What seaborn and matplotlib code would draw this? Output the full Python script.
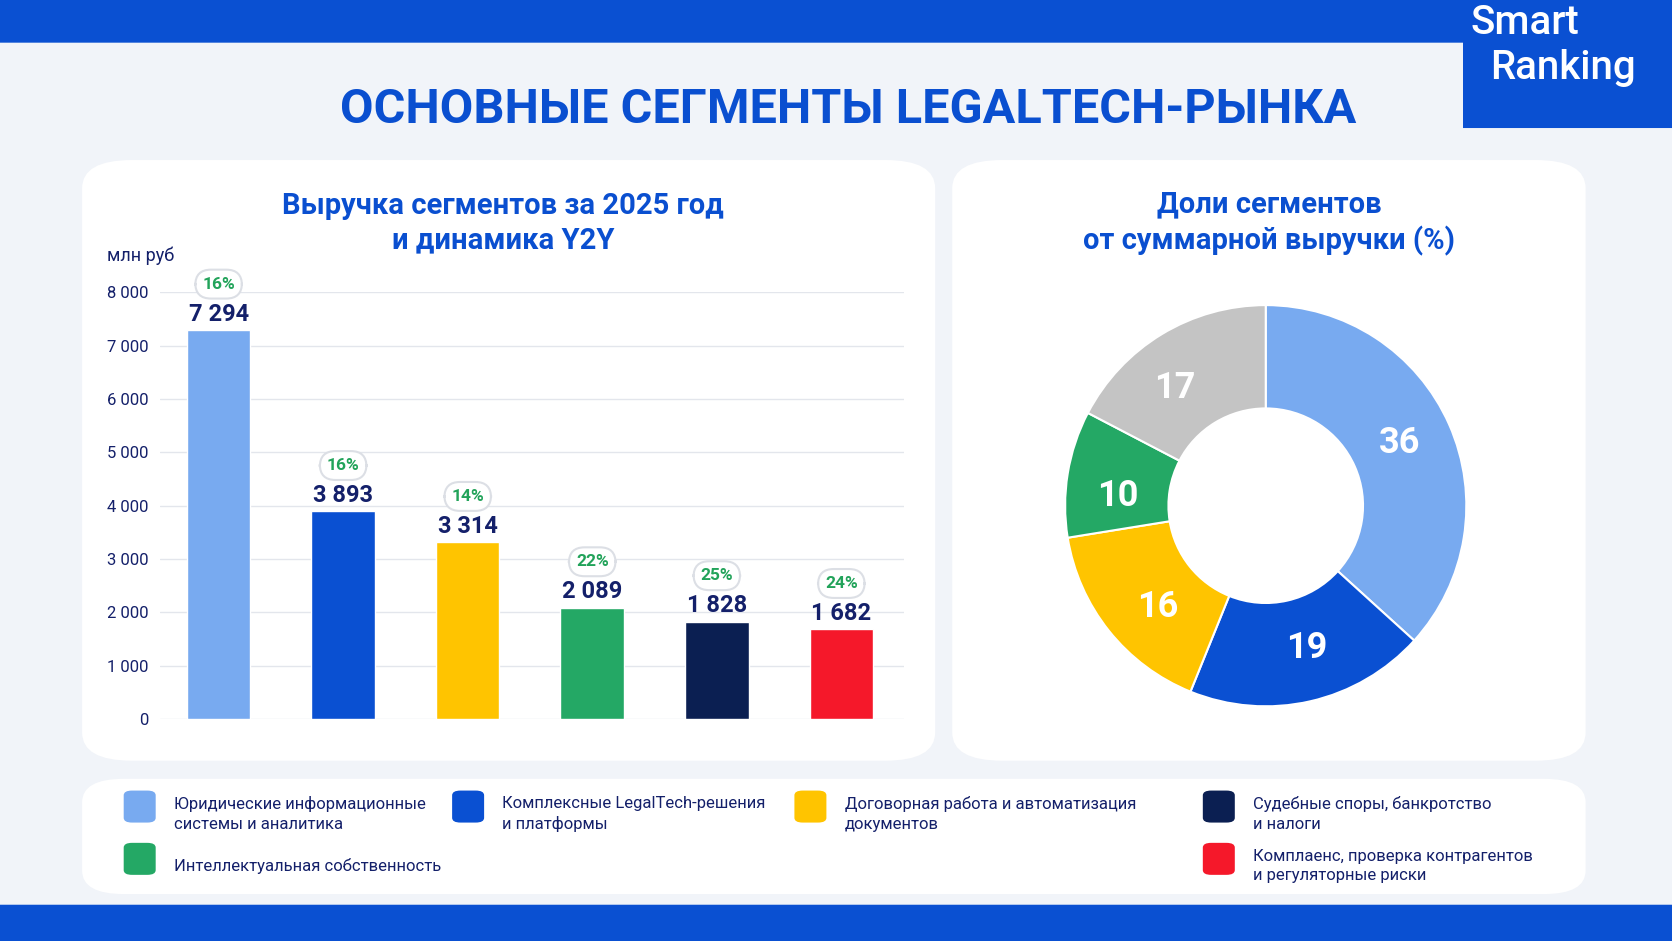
import matplotlib
matplotlib.use("Agg")
import matplotlib.pyplot as plt
from matplotlib.patches import FancyBboxPatch
import numpy as np
import seaborn as sns

sns.set_theme(style="white")
plt.rcParams['font.family'] = ['Roboto', 'DejaVu Sans']

# данные
categories = ["Юридические информационные\nсистемы и аналитика",
              "Комплексные LegalTech-решения\nи платформы",
              "Договорная работа и автоматизация\nдокументов",
              "Интеллектуальная собственность",
              "Судебные споры, банкротство\nи налоги",
              "Комплаенс, проверка контрагентов\nи регуляторные риски"]
revenue = [7294, 3893, 3314, 2089, 1828, 1682]
growth = ["16%", "16%", "14%", "22%", "25%", "24%"]
colors = ["#78aaf0", "#0a50d2", "#ffc400", "#24a865", "#0b1f52", "#f5182a"]

share_vals = [36, 19, 16, 10, 17]
share_colors = ["#78aaf0", "#0a50d2", "#ffc400", "#24a865", "#c4c4c4"]

BLUE = "#0a4fd0"
NAVY = "#14206a"
W, H = 1568, 882

fig = plt.figure(figsize=(16.72, 9.41), dpi=100)
fig.patch.set_facecolor("#f1f4f9")

def fx(x): return x / W
def fy(y): return 1 - y / H

def box(x0, y0, x1, y1, color, r=0.0):
    p = FancyBboxPatch((fx(x0), fy(y1)), fx(x1) - fx(x0), fy(y0) - fy(y1),
                       boxstyle=f"round,pad=0,rounding_size={r}",
                       transform=fig.transFigure, facecolor=color,
                       edgecolor="none", zorder=-5)
    fig.patches.append(p)

# полосы и панели
box(0, 0, W, 40, "#0a50d2")
box(0, 848, W, H, "#0a50d2")
box(1372, 0, W, 120, "#0a50d2")
fig.text(fx(1379), fy(22), "Smart", color="white", fontsize=29, va="center", weight="medium")
fig.text(fx(1397), fy(64), "Ranking", color="white", fontsize=29, va="center", weight="medium")
box(77, 150, 877, 713, "white", 0.03)
box(893, 150, 1487, 713, "white", 0.03)
box(77, 730, 1487, 838, "white", 0.025)

fig.text(fx(795), fy(103), "ОСНОВНЫЕ СЕГМЕНТЫ LEGALTECH-РЫНКА", color=BLUE,
         fontsize=35, weight="bold", ha="center", va="center")
fig.text(fx(472), fy(209), "Выручка сегментов за 2025 год\nи динамика Y2Y", color=BLUE,
         fontsize=21, weight="bold", ha="center", va="center", linespacing=1.3)
fig.text(fx(1190), fy(209), "Доли сегментов\nот суммарной выручки (%)", color=BLUE,
         fontsize=21, weight="bold", ha="center", va="center", linespacing=1.3)
fig.text(fx(100), fy(240), "млн руб", color=NAVY, fontsize=13, va="center")

# столбцы
ax = fig.add_axes([fx(150), fy(674), fx(848) - fx(150), fy(274) - fy(674)])
ax.set_zorder(5)
ax.set_facecolor("none")
sns.barplot(x=list(range(len(revenue))), y=revenue, hue=list(range(len(revenue))),
            palette=colors, legend=False, width=0.51, ax=ax, saturation=1)
ax.set_ylim(0, 8000)
ax.set_xlim(-0.471, 5.505)
ax.set_yticks(range(0, 8001, 1000))
ax.set_yticklabels([f"{v:,}".replace(",", " ") for v in range(0, 8001, 1000)],
                   color=NAVY, fontsize=12)
ax.set_xticks([])
ax.grid(axis="y", color="#e3e6ec", lw=1)
ax.set_axisbelow(True)
for s in ax.spines.values():
    s.set_visible(False)
ax.tick_params(axis="y", length=0, pad=8)
for i, (v, g) in enumerate(zip(revenue, growth)):
    ax.text(i, v + 80, f"{v:,}".replace(",", " "), ha="center", va="bottom",
            fontsize=17, weight="bold", color=NAVY)
    ax.text(i, v + 860, g, ha="center", va="center", fontsize=12.5, weight="bold",
            color="#22a35a", clip_on=False,
            bbox=dict(boxstyle="round,pad=0.4,rounding_size=0.9", fc="white",
                      ec="#dcdfe5", lw=1.5))

# кольцо
ax2 = fig.add_axes([fx(997), fy(664), fx(1377) - fx(997), fy(284) - fy(664)])
ax2.set_zorder(5)
wedges, _ = ax2.pie(share_vals, colors=share_colors, startangle=90, counterclock=False,
                    wedgeprops=dict(width=0.515, edgecolor="white", linewidth=1.5))
ang = 90
for v in share_vals:
    mid = np.deg2rad(ang - v * 3.6 / 2)
    ang -= v * 3.6
    ax2.text(0.74 * np.cos(mid), 0.74 * np.sin(mid), str(v), ha="center", va="center",
             fontsize=26, weight="bold", color="white")
ax2.set_xlim(-1.01, 1.01)
ax2.set_ylim(-1.01, 1.01)
ax2.set_aspect("equal")

# легенда
leg_pos = [(131, 756), (439, 756), (760, 756), (131, 805), (1143, 756), (1143, 805)]
for (x, y), c, t in zip(leg_pos, colors, categories):
    fig.patches.append(FancyBboxPatch((fx(x - 15), fy(y + 15)), fx(30), 30 / H,
                                      boxstyle="round,pad=0,rounding_size=0.005",
                                      transform=fig.transFigure, fc=c, ec="none"))
    fig.text(fx(x + 32), fy(y + 7), t, fontsize=12, color=NAVY, va="center",
             linespacing=1.35)

fig.savefig("out.png", dpi=100, facecolor=fig.get_facecolor())
